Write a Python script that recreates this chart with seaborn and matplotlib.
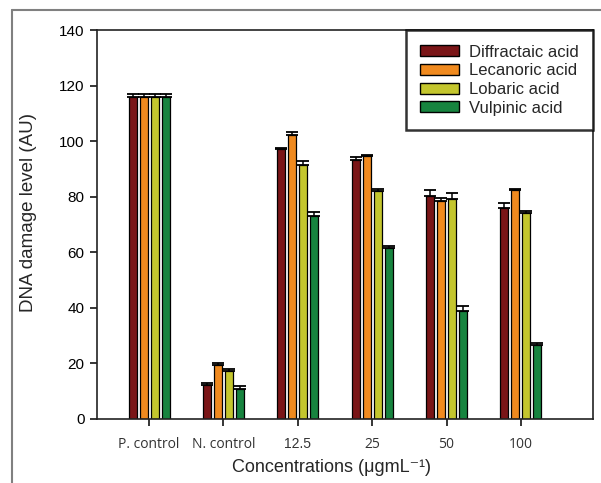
import numpy as np
import pandas as pd
import matplotlib
matplotlib.use('Agg')
import matplotlib.pyplot as plt
from matplotlib.lines import Line2D
import seaborn as sns

categories = ['P. control', 'N. control', '12.5', '25', '50', '100']
acids = ['Diffractaic acid', 'Lecanoric acid', 'Lobaric acid', 'Vulpinic acid']

diffractaic = [116.0, 12.1, 97.2, 93.3, 80.3, 75.9]
lecanoric = [116.0, 19.4, 102.2, 94.8, 78.4, 82.5]
lobaric = [116.0, 17.0, 91.4, 82.0, 79.2, 74.1]
vulpinic = [116.0, 10.8, 73.1, 61.7, 38.8, 26.6]

diffractaic_err = [1.2, 0.6, 0.3, 1.2, 2.1, 1.8]
lecanoric_err = [1.2, 0.5, 1.1, 0.3, 1.1, 0.3]
lobaric_err = [1.2, 0.9, 1.6, 0.9, 2.0, 0.7]
vulpinic_err = [1.2, 1.0, 1.3, 0.7, 1.9, 0.5]

colors = ['#7a1517', '#f08a1f', '#c4c62e', '#17843f']

values = [diffractaic, lecanoric, lobaric, vulpinic]
errors = [diffractaic_err, lecanoric_err, lobaric_err, vulpinic_err]

df = pd.DataFrame({
    'conc': np.tile(categories, len(acids)),
    'acid': np.repeat(acids, len(categories)),
    'value': np.concatenate(values),
})

sns.set_style('ticks')
plt.rcParams['font.family'] = ['Liberation Sans', 'DejaVu Sans']

fig = plt.figure(figsize=(6.01, 4.83), dpi=100)
ax = fig.add_axes([0.1614, 0.1335, 0.8253, 0.8034])

sns.barplot(data=df, x='conc', y='value', hue='acid', order=categories,
            hue_order=acids, palette=colors, width=0.59, gap=0.27,
            edgecolor='black', linewidth=0.9, errorbar=None, saturation=1,
            ax=ax)

# upper error bars only
for container, err in zip(ax.containers, errors):
    xs = [b.get_x() + b.get_width() / 2 for b in container]
    ys = [b.get_height() for b in container]
    ax.errorbar(xs, ys, yerr=[np.zeros(len(err)), err], fmt='none',
                ecolor='black', elinewidth=1.1, capsize=4.6, capthick=1.3)

ax.set_ylim(0, 140)
ax.set_yticks(np.arange(0, 141, 20))
ax.set_xlim(-0.70, 5.97)
ax.set_ylabel('DNA damage level (AU)', fontsize=13.5)
ax.set_xlabel('Concentrations (\u03bcgmL\u207b\u00b9)', fontsize=13)
ax.yaxis.set_label_coords(-0.121, 0.53)
ax.xaxis.set_label_coords(0.472, -0.105)
ax.tick_params(axis='both', direction='out', length=5, width=1.1,
               colors='black', labelsize=11)
ax.tick_params(axis='y', pad=4)
ax.tick_params(axis='x', labelcolor='#333333', labelsize=10, pad=8)
for lab in ax.get_xticklabels():
    if lab.get_text() != '12.5':
        lab.set_family(['Open Sans', 'DejaVu Sans'])
for side in ['left', 'right', 'top', 'bottom']:
    ax.spines[side].set_visible(True)
    ax.spines[side].set_linewidth(1.2)
    ax.spines[side].set_color('#222222')

leg = ax.legend(loc='upper right', bbox_to_anchor=(1.0, 1.0), borderaxespad=0,
                fontsize=12, frameon=True, fancybox=False, handlelength=2.35,
                handleheight=0.65, labelspacing=0.22, handletextpad=0.6,
                borderpad=0.85, title=None)
leg.get_frame().set_edgecolor('black')
leg.get_frame().set_linewidth(1.8)
for h in leg.legend_handles:
    h.set_edgecolor('black')
    h.set_linewidth(1.0)

# outer frame of the figure panel
fig.add_artist(Line2D([12 / 601, 12 / 601], [0, 1 - 10 / 483],
                      color='#808080', lw=1.5, transform=fig.transFigure))
fig.add_artist(Line2D([12 / 601, 1], [1 - 10 / 483, 1 - 10 / 483],
                      color='#808080', lw=1.5, transform=fig.transFigure))

fig.savefig('out.png', dpi=100)
